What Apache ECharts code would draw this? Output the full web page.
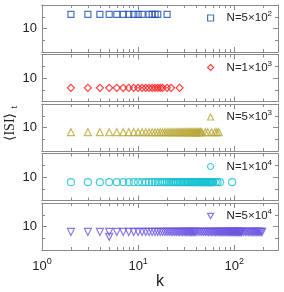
<!DOCTYPE html>
<html><head><meta charset="utf-8">
<script src="https://cdn.jsdelivr.net/npm/echarts@6/dist/echarts.min.js"></script>
<style>html,body{margin:0;padding:0;background:#fff}#c{width:284px;height:292px}</style>
</head><body><div id="c"></div>
<script>
// ---- data ----
const k500 = [2,3,4,5,6,7,8,9,10,11,13,14,15,16,20];
const isi500 = [16,16,16,16,16,16,16,16,16,16,16,16,16,16,16];

const k1e3 = [2,3,4,5,6,7,8,9,10,11,12,13,14,15,16,17,18,20,22,27];
const isi1e3 = [5.8,5.8,5.8,5.8,5.8,5.8,5.8,5.8,5.8,5.8,
                5.8,5.8,5.8,5.8,5.8,5.8,5.8,5.8,5.8,5.8];

const k5e3 = [2,3,4,5,6,7,8,9,10,11,12,13,14,15,16,17,18,19,20,21,
              22,23,24,25,26,27,28,29,30,31,32,33,34,35,36,37,38,39,40,41,
              42,43,44,45,46,50,53,58,63,66,69];
const isi5e3 = [8,8,8,8,8,8,8,8,8,8,
                8,8,8,8,8,8,8,8,8,8,
                8,8,8,8,8,8,8,8,8,8,
                8,8,8,8,8,8,8,8,8,8,
                8,8,8,8,8,8,8,8,8,8,
                8];

const k1e4 = [2,3,4,5,6,7,8,9,10,11,12,13,14,15,16,17,18,19,20,21,
              22,23,24,25,26,27,28,29,30,31,32,33,34,35,36,37,38,39,40,41,
              42,43,44,45,46,47,48,49,50,51,52,53,54,55,56,57,58,59,60,64,
              67,71,95];
const isi1e4 = [7.8,7.8,7.8,7.8,7.8,7.8,7.8,7.8,7.8,7.8,
                7.8,7.8,7.8,7.8,7.8,7.8,7.8,7.8,7.8,7.8,
                7.8,7.8,7.8,7.8,7.8,7.8,7.8,7.8,7.8,7.8,
                7.8,7.8,7.8,7.8,7.8,7.8,7.8,7.8,7.8,7.8,
                7.8,7.8,7.8,7.8,7.8,7.8,7.8,7.8,7.8,7.8,
                7.8,7.8,7.8,7.8,7.8,7.8,7.8,7.8,7.8,7.8,
                7.8,7.8,7.8];

const k5e4 = [2,3,4,5,5,6,7,8,9,10,
              11,12,13,14,15,16,17,18,19,20,
              21,22,23,24,25,26,27,28,29,30,
              31,32,33,34,35,36,37,38,39,40,
              42,44,46,48,50,52,54,56,58,60,
              62,64,66,68,70,72,74,76,78,80,
              82,84,86,88,90,92,94,96,98,100,
              102,104,106,108,110,112,114,116,118,120,
              125,130,135,140,145,150,155,160,165,170,
              175,180,185,190,195];
const isi5e4 = [7.7,7.7,7.7,7.7,5.6,7.7,7.7,7.7,7.7,7.7,
                7.7,7.7,7.7,7.7,7.7,7.7,7.7,7.7,7.7,7.7,
                7.7,7.7,7.7,7.7,7.7,7.7,7.7,7.7,7.7,7.7,
                7.7,7.7,7.7,7.7,7.7,7.7,7.7,7.7,7.7,7.7,
                7.7,7.7,7.7,7.7,7.7,7.7,7.7,7.7,7.7,7.7,
                7.7,7.7,7.7,7.7,7.7,7.7,7.7,7.7,7.7,7.7,
                7.7,7.7,7.7,7.7,7.7,7.7,7.7,7.7,7.7,7.7,
                7.7,7.7,7.7,7.7,7.7,7.7,7.7,7.7,7.7,7.7,
                7.7,7.7,7.7,7.7,7.7,7.7,7.7,7.7,7.7,7.7,
                7.7,7.7,7.7,7.7,7.7];

const panelNames = ['N500','N1e3','N5e3','N1e4','N5e4'];
const panelLabels = ['{n|N=5\u00d710}{s|2}','{n|N=1\u00d710}{s|3}','{n|N=5\u00d710}{s|3}','{n|N=1\u00d710}{s|4}','{n|N=5\u00d710}{s|4}'];
const panelK = [k500,k1e3,k5e3,k1e4,k5e4];
const panelISI = [isi500,isi1e3,isi5e3,isi1e4,isi5e4];
const yTicks = [0,10,20];
const xMajorTicks = [1,10,100];
const xMinorTicks = [2,3,4,5,6,7,8,9,20,30,40,50,60,70,80,90,200];

// ---- styles ----
const colors = ['#1f4fb0','#ff1010','#b8a83a','#18c0d2','#6a55e0'];
const symbols = ['rect','diamond','triangle','circle','triangle'];
const legendIcons = ['rect','diamond','triangle','circle','path://M0,0 L10,0 L5,8.66 Z'];
const rotations = [0,0,0,0,180];
const sizes = [6,7,7,7,7];
const gridTops = [5,54.5,104,153.5,203];
const gridH = 47;
const axisColor = '#8a8a8a';
const numFont = "'Liberation Sans Narrow','Liberation Sans',Arial,sans-serif";

const grid=[], xAxis=[], yAxis=[], series=[], legend=[];
for (let i=0;i<5;i++){
  grid.push({left:42, right:6, top:gridTops[i], height:gridH});
  const mk = function(pos, ticks, len, withLabel){
    return {type:'log', logBase:10, gridIndex:i, min:1, max:285, position:pos,
      axisLine:{show:true,onZero:false,lineStyle:{color:axisColor,width:1}},
      axisTick:{show:true,inside:true,length:len,customValues:ticks,lineStyle:{color:axisColor}},
      minorTick:{show:false},
      splitLine:{show:false},
      axisLabel: withLabel ? {show:true, margin:7, color:'#222', fontFamily:numFont, fontSize:13,
        customValues:xMajorTicks,
        formatter:function(v){ return '10{s|'+Math.round(Math.log10(v))+'}'; },
        rich:{s:{fontSize:9, fontFamily:numFont, color:'#222', padding:[0,0,9,0]}}} : {show:false},
      name: withLabel?'k':'', nameLocation:'middle', nameGap:24,
      nameTextStyle:{fontSize:16, color:'#222', fontFamily:numFont}};
  };
  xAxis.push(mk('bottom', xMajorTicks, 5, i===4));   // index 4i
  xAxis.push(mk('top', xMajorTicks, 5, false));
  xAxis.push(mk('bottom', xMinorTicks, 3, false));
  xAxis.push(mk('top', xMinorTicks, 3, false));
  const ybase = {type:'value', gridIndex:i, min:0, max:20, interval:10,
    axisLine:{show:true,onZero:false,lineStyle:{color:axisColor,width:1}},
    axisTick:{show:true,inside:true,length:5,lineStyle:{color:axisColor}},
    minorTick:{show:true,splitNumber:2,length:3,lineStyle:{color:axisColor}},
    splitLine:{show:false}};
  yAxis.push(Object.assign({}, ybase, {position:'left',
    axisLabel:{show:true, margin:5, color:'#222', fontFamily:numFont, fontSize:13,
      formatter:function(v){ return v===yTicks[1]? String(v):''; }}}));
  yAxis.push(Object.assign({}, ybase, {position:'right', axisLabel:{show:false}}));
  const data = panelK[i].map((k,j)=>[k, panelISI[i][j]]);
  const st = {color:'rgba(0,0,0,0)', borderColor:colors[i], borderWidth:1.2};
  series.push({type:'scatter', name:panelNames[i], xAxisIndex:4*i, yAxisIndex:2*i, data:data,
    symbol:symbols[i], symbolSize:sizes[i], symbolRotate:rotations[i],
    itemStyle:st, emphasis:{disabled:true}, animation:false});
  legend.push({data:[{name:panelNames[i], icon:legendIcons[i], itemStyle:st}],
    left:207, top:gridTops[i]+5, padding:0,
    itemWidth:6, itemHeight:6, selectedMode:false, symbolRotate:0,
    itemStyle:st,
    formatter:function(){ return panelLabels[i]; },
    textStyle:{color:'#222', fontFamily:numFont, fontSize:11.5,
      rich:{n:{fontSize:11.5, fontFamily:numFont, color:'#222', padding:[0,0,0,8]},
            s:{fontSize:8, fontFamily:numFont, color:'#222', padding:[0,0,8,0]}}}});
}

const chart = echarts.init(document.getElementById('c'), null, {renderer:'canvas'});
chart.setOption({
  animation:false,
  grid:grid, xAxis:xAxis, yAxis:yAxis, series:series, legend:legend,
  graphic:[
    {type:'text', x:10, y:127, rotation:Math.PI/2,
     style:{text:'\u27e8ISI\u27e9', fontSize:14, fontFamily:"'Liberation Serif','DejaVu Serif',serif",
            fill:'#222', align:'center', verticalAlign:'middle'}},
    {type:'text', x:14, y:107, rotation:Math.PI/2,
     style:{text:'t', fontSize:10, fontFamily:"'Liberation Serif','DejaVu Serif',serif",
            fill:'#222', align:'center', verticalAlign:'middle'}}
  ]
});
</script></body></html>
